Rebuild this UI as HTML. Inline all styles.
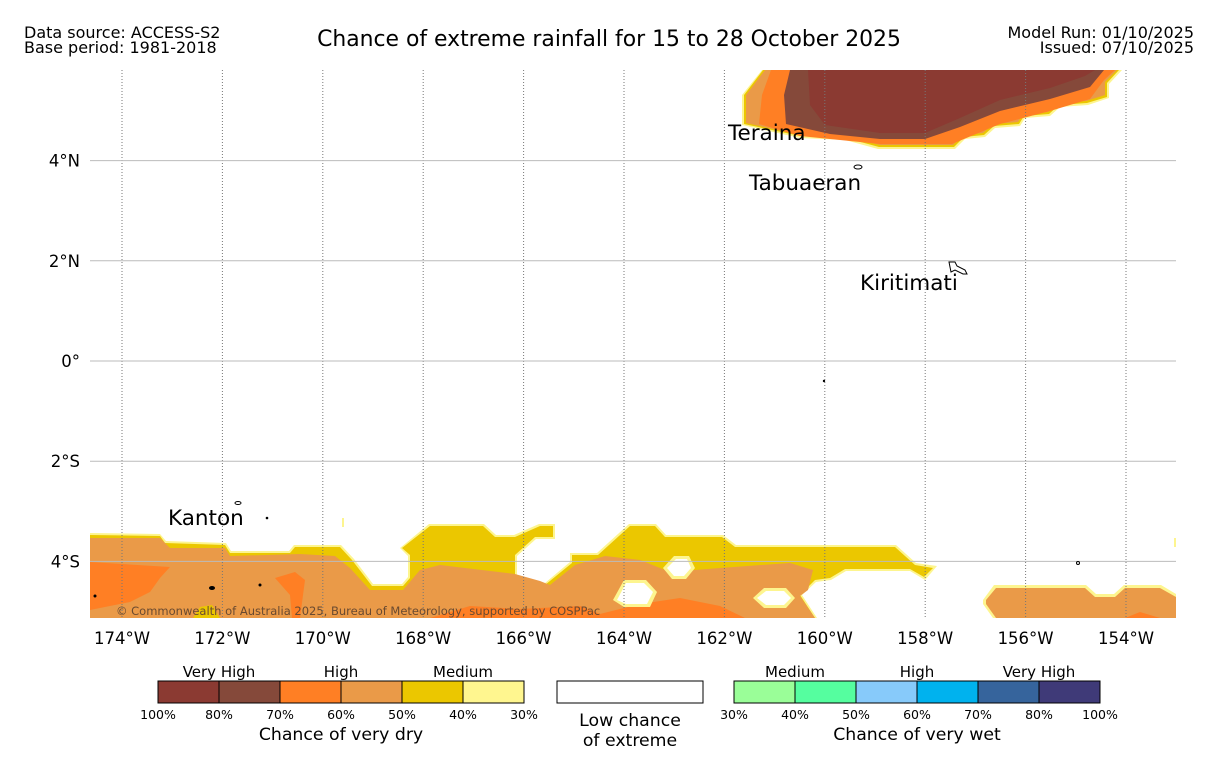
<!DOCTYPE html>
<html><head><meta charset="utf-8"><style>
body{margin:0;background:#fff;}
svg{display:block;font-family:"DejaVu Sans","Liberation Sans",sans-serif;}
</style></head><body>
<svg width="1219" height="758" viewBox="0 0 1219 758">
<rect width="1219" height="758" fill="#fff"/>
<text x="24" y="38" font-size="16">Data source: ACCESS-S2</text>
<text x="24" y="53" font-size="16">Base period: 1981-2018</text>
<text x="609" y="46" font-size="21.9" text-anchor="middle">Chance of extreme rainfall for 15 to 28 October 2025</text>
<text x="1194" y="38" font-size="16" text-anchor="end">Model Run: 01/10/2025</text>
<text x="1194" y="53" font-size="16" text-anchor="end">Issued: 07/10/2025</text>
<g id="map">
<g>
<polygon fill="#fdf58f" points="762,70 742,95 742,125 800,138 845,140 878,149 955,149 965,139 985,137 995,128 1020,126 1025,118 1050,116 1060,107 1088,105 1109,98 1109,84 1122,70"/>
<polygon fill="#ebc700" points="763,70 744,95 744,124 800,136 846,138 879,147 954,147 964,137 984,135 994,126 1019,124 1024,116 1049,114 1059,105 1087,103 1107,97 1107,83 1119,70"/>
<polygon fill="#ea9a48" points="765,70 746,95 746,123 800,135 847,137 880,145 953,145 963,135 983,133 993,124 1018,122 1023,114 1048,112 1058,103 1086,101 1105,95 1105,82 1117,70"/>
<polygon fill="#ff7f24" points="771,70 762,95 759,124 800,136 850,141 880,144 952,144 1000,124 1050,111 1090,99 1104,80 1115,70"/>
<polygon fill="#85493a" points="790,70 784,95 786,124 830,134 880,139 925,139 960,127 1000,111 1050,99 1090,87 1104,70"/>
<polygon fill="#8b3a32" points="808,70 810,105 825,125 880,133 925,133 960,118 1000,100 1050,88 1085,76 1095,70"/>
</g>
<g>
<polygon fill="#fdf58f" points="90,533 160,534 166,541 226,543 231,551 289,551 294,545 341,545 354,559 373,584 402,584 408,577 408,556 400,548 429,524 484,524 496,535 514,535 539,524 555,524 555,539 536,539 517,556 517,577 545,583 570,562 570,553 597,553 629,524 656,524 666,535 723,535 736,545 896,545 916,563 937,566 925,580 910,571 846,571 831,580 816,582 802,595 817,618 90,618"/>
<polygon fill="#ebc700" points="90,535 160,536 165,543 225,545 230,553 290,553 295,547 340,547 352,560 372,586 403,586 410,578 410,555 402,548 430,526 483,526 495,537 515,537 540,526 553,526 553,537 535,537 515,555 515,578 545,585 572,563 572,555 598,555 630,526 655,526 665,537 722,537 735,547 895,547 915,565 933,568 924,577 910,569 845,569 830,578 815,580 800,595 815,618 90,618"/>
<polygon fill="#ea9a48" points="90,538 160,538 170,548 225,548 230,556 300,554 335,556 350,568 370,590 403,590 420,570 440,565 515,574 540,581 550,585 575,565 605,556 640,560 670,572 720,568 790,563 813,570 808,590 800,596 815,618 90,618"/>
<polygon fill="#ff7f24" points="90,562 170,567 160,578 150,592 130,602 90,610"/>
<polygon fill="#ff7f24" points="275,578 295,572 305,580 300,618 292,618 290,595"/>
<polygon fill="#ff7f24" points="430,618 470,606 520,609 580,606 600,614 640,604 680,598 720,606 745,618"/>
<polygon fill="#ebc700" points="193,618 200,607 212,605 220,618"/>
<polygon fill="#fdf58f" points="613,600 624,580 646,580 657,592 650,607 624,607"/>
<polygon fill="#fff" points="617,600 626,583 644,583 653,592 647,604 626,604"/>
<polygon fill="#fdf58f" points="663,568 674,556 689,556 695,568 686,579 672,579"/>
<polygon fill="#fff" points="667,568 676,559 687,559 691,568 684,576 674,576"/>
<polygon fill="#fdf58f" points="753,598 764,588 786,588 795,598 786,608 764,608"/>
<polygon fill="#fff" points="757,598 766,591 784,591 791,598 784,605 766,605"/>
<polygon fill="#fdf58f" points="983,600 994,585 1086,585 1096,594 1114,594 1124,585 1161,585 1176,594 1176,618 993,618 983,604"/>
<polygon fill="#ea9a48" points="986,600 996,588 1085,588 1095,597 1115,597 1125,588 1160,588 1176,597 1176,618 996,618 986,604"/>
<polygon fill="#ff7f24" points="1125,618 1140,612 1160,618"/>
<rect x="342" y="518" width="2" height="9" fill="#fdf58f"/>
<rect x="1174" y="538" width="2" height="9" fill="#fdf58f"/>
</g>
<g id="grid"></g>
<g fill="none" stroke="#000" stroke-width="1">
<ellipse cx="858" cy="167" rx="4" ry="2"/>
<path d="M949,262 l6,0 l2,4 l8,4 l2,4 l-4,0 l-8,-4 l-4,2 z"/>
<ellipse cx="238" cy="503" rx="3" ry="1.5"/>
<ellipse cx="212" cy="588" rx="2.5" ry="1.5" fill="#000"/>
<circle cx="260" cy="585" r="1" fill="#000"/>
<circle cx="95" cy="596" r="1" fill="#000"/>
<circle cx="267" cy="518" r="0.8" fill="#000"/>
<circle cx="824" cy="381" r="0.7" fill="#000"/>
<circle cx="1078" cy="563" r="1.5"/>
</g>
<g font-size="21.5" fill="#000">
<text x="728" y="140">Teraina</text>
<text x="749" y="190">Tabuaeran</text>
<text x="860" y="290">Kiritimati</text>
<text x="168" y="525">Kanton</text>
</g>
<text x="116" y="615" font-size="11.5" fill="#6a4a30">© Commonwealth of Australia 2025, Bureau of Meteorology, supported by COSPPac</text>
</g>
<g id="axes"></g>
<g id="legend"></g>
</svg>
<script>
const lonTicks=[-174,-172,-170,-168,-166,-164,-162,-160,-158,-156,-154];
const latTicks=[4,2,0,-2,-4];
const dryColors=["#8b3a32","#85493a","#ff7f24","#ea9a48","#ebc700","#fff68f"];
const dryLabels=["100%","80%","70%","60%","50%","40%","30%"];
const wetColors=["#9afe98","#55fe9f","#87cafa","#00b2ee","#36649c","#3f3a78"];
const wetLabels=["30%","40%","50%","60%","70%","80%","100%"];
const NS="http://www.w3.org/2000/svg";
const X0=90,X1=1176,Y0=70,Y1=618;
function xs(lon){return 122+(lon+174)*50.2;}
function ys(lat){return 361-lat*50.1;}
function mk(tag,attrs,parent,text){const e=document.createElementNS(NS,tag);for(const k in attrs)e.setAttribute(k,attrs[k]);if(text!==undefined)e.textContent=text;parent.appendChild(e);return e;}
const grid=document.getElementById('grid'),axes=document.getElementById('axes'),leg=document.getElementById('legend');
lonTicks.forEach(l=>{
 const x=xs(l);
 const ln=mk('line',{x1:x,x2:x,y1:Y0,y2:Y1,stroke:'#777','stroke-width':1,'stroke-dasharray':'1,2'},grid);
 
 
 const t=mk('text',{x:x,y:644,'font-size':16.5,'text-anchor':'middle'},axes,Math.abs(l)+'°W');
 
 
});
latTicks.forEach(l=>{
 const y=ys(l);
 const ln=mk('line',{x1:X0,x2:X1,y1:y,y2:y,stroke:'#bbb','stroke-width':1},grid);
 
 
 const lab=l===0?'0°':Math.abs(l)+'°'+(l>0?'N':'S');
 const t=mk('text',{x:80,y:y+6,'font-size':16.5,'text-anchor':'end'},axes,lab);
 
 
});
function bar(x0,colors,labels,cats,title,nameP){
 const w=61;
 colors.forEach((c,i)=>{
  const r=mk('rect',{x:x0+i*w,y:681,width:w,height:22,fill:c,stroke:'#000','stroke-width':1},leg);
  
  
 });
 labels.forEach((s,i)=>{
  const t=mk('text',{x:x0+i*w,y:719,'font-size':12.5,'text-anchor':'middle'},leg,s);
  
  
 });
 cats.forEach((s,i)=>{
  const t=mk('text',{x:x0+w+i*2*w,y:677,'font-size':15,'text-anchor':'middle'},leg,s);
  
  
 });
 const t=mk('text',{x:x0+3*w,y:740,'font-size':17.3,'text-anchor':'middle'},leg,title);
 
 
}
bar(158,dryColors,dryLabels,["Very High","High","Medium"],"Chance of very dry","dry-legend");
bar(734,wetColors,wetLabels,["Medium","High","Very High"],"Chance of very wet","wet-legend");
const lb=mk('rect',{x:557,y:681,width:146,height:22,fill:'#fff',stroke:'#000','stroke-width':1},leg);


const l1=mk('text',{x:630,y:726,'font-size':17.3,'text-anchor':'middle'},leg,'Low chance');


const l2=mk('text',{x:630,y:746,'font-size':17.3,'text-anchor':'middle'},leg,'of extreme');


</script>
</body></html>
